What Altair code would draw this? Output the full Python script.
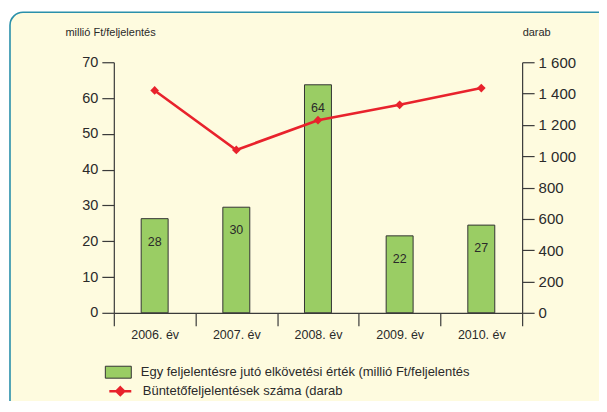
import altair as alt
import pandas as pd

years = ["2006. év", "2007. év", "2008. év", "2009. év", "2010. év"]
bar_values = [26.3, 29.5, 63.7, 21.5, 24.5]
bar_labels = ["28", "30", "64", "22", "27"]
counts = [1420, 1040, 1230, 1328, 1435]

bar_name = "Egy feljelentésre jutó elkövetési érték (millió Ft/feljelentés"
line_name = "Büntetőfeljelentések száma (darab"
left_title = "millió Ft/feljelentés"
right_title = "darab"
left_ticks = [0, 10, 20, 30, 40, 50, 60, 70]
right_ticks = [0, 200, 400, 600, 800, 1000, 1200, 1400, 1600]

df = pd.DataFrame({
    "year": years,
    "value": bar_values,
    "label": bar_labels,
    "count": counts,
    "s1": [bar_name] * len(years),
    "s2": [line_name] * len(years),
})

W, H = 409, 251
FONT = "Liberation Sans"
TXT = "#2a2a2a"
AX = "#3a3a3a"
GREEN = "#9acd64"
RED = "#e8222c"
CREAM = "#fefbdf"
TEAL = "#2a90aa"

x_enc = alt.X(
    "year:N", sort=years,
    scale=alt.Scale(paddingInner=0, paddingOuter=0),
    axis=alt.Axis(title=None, labelAngle=0, tickBand="extent", tickSize=13,
                  labelPadding=3, domainColor=AX, tickColor=AX, labelColor=TXT,
                  labelFontSize=12.5, labelFont=FONT, domainWidth=1.2, tickWidth=1.2,
                  zindex=1),
)

frame = alt.Chart(pd.DataFrame({"a": [0]})).mark_rect(
    fill=CREAM, stroke=TEAL, strokeWidth=1.6, cornerRadius=13
).encode(
    x=alt.value(-104), x2=alt.value(W + 200),
    y=alt.value(-50), y2=alt.value(H + 200),
)

y_left = alt.Y(
    "value:Q",
    scale=alt.Scale(domain=[0, 70], nice=False),
    axis=alt.Axis(title=left_title, orient="left", values=left_ticks, grid=False, tickSize=12,
                  labelPadding=4, domainColor=AX, tickColor=AX, labelColor=TXT,
                  labelFontSize=14.5, labelFont=FONT, domainWidth=1.2, tickWidth=1.2,
                  titleAngle=0, titleAlign="left", titleBaseline="middle",
                  titleX=-49, titleY=-30, titleFont=FONT, titleFontSize=11,
                  titleFontWeight="normal", titleColor=TXT, zindex=1),
)

bars = alt.Chart(df).mark_bar(size=27, stroke="#333333", strokeWidth=1).encode(
    x=x_enc,
    y=y_left,
    fill=alt.Fill("s1:N", scale=alt.Scale(range=[GREEN]),
                  legend=alt.Legend(title=None, orient="none", legendX=-9, legendY=297,
                                    symbolType="M-1,-0.46H1V0.46H-1Z", symbolSize=676,
                                    symbolStrokeColor="#333333", symbolStrokeWidth=1,
                                    labelOffset=9, labelFont=FONT, labelFontSize=13,
                                    labelColor=TXT, padding=0, labelLimit=500)),
)

texts = alt.Chart(df).mark_text(dy=23, fontSize=12.5, font=FONT, color=TXT).encode(
    x=x_enc,
    y=alt.Y("value:Q", scale=alt.Scale(domain=[0, 70], nice=False), axis=None),
    text="label:N",
)

y_right = alt.Y(
    "count:Q",
    scale=alt.Scale(domain=[0, 1600], nice=False),
    axis=alt.Axis(title=right_title, orient="right", values=right_ticks, grid=False,
                  tickSize=12, labelPadding=4, domainColor=AX, tickColor=AX,
                  labelColor=TXT, labelFontSize=15, labelFont=FONT,
                  domainWidth=1.2, tickWidth=1.2,
                  labelExpr="replace(format(datum.value, ','), ',', ' ')",
                  titleAngle=0, titleAlign="left", titleBaseline="middle",
                  titleX=0, titleY=-30, titleFont=FONT, titleFontSize=11,
                  titleFontWeight="normal", titleColor=TXT, zindex=1),
)

line = alt.Chart(df).mark_line(strokeWidth=2.6).encode(
    x=x_enc,
    y=y_right,
    stroke=alt.Stroke("s2:N", scale=alt.Scale(range=[RED]),
                      legend=alt.Legend(title=None, orient="none", legendX=-6, legendY=317,
                                        symbolType="M-1,0H1M0,-0.36L0.36,0L0,0.36L-0.36,0Z",
                                        symbolSize=484, symbolStrokeWidth=2.4,
                                        symbolFillColor=RED,
                                        labelOffset=10, labelFont=FONT, labelFontSize=13,
                                        labelColor=TXT, padding=0, labelLimit=500)),
)

points = alt.Chart(df).mark_point(shape="diamond", filled=True, color=RED, size=75, opacity=1).encode(
    x=x_enc,
    y=alt.Y("count:Q", scale=alt.Scale(domain=[0, 1600], nice=False), axis=None),
)

chart = alt.layer(frame, bars, texts, line, points).resolve_scale(
    y="independent", fill="independent", stroke="independent"
).properties(
    width=W, height=H,
    autosize=alt.AutoSizeParams(type="none"),
    padding={"left": 106, "top": 54, "right": 77, "bottom": 88},
).configure_view(stroke=None).configure(background="white")

chart.save("out.html", embed_options={"renderer": "svg", "actions": False})
